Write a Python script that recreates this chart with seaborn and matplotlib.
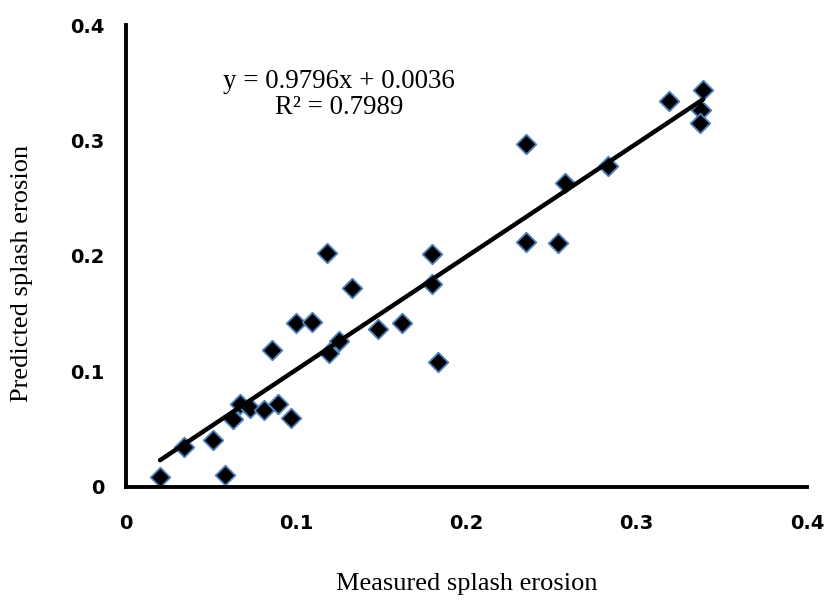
import matplotlib
matplotlib.use("Agg")
import matplotlib.pyplot as plt
import seaborn as sns
import numpy as np
import pandas as pd

# Data
measured = [0.020, 0.034, 0.051, 0.058, 0.063, 0.067, 0.073, 0.081, 0.089, 0.097,
            0.086, 0.100, 0.109, 0.118, 0.119, 0.125, 0.133, 0.148, 0.162, 0.180,
            0.180, 0.183, 0.235, 0.235, 0.254, 0.258, 0.283, 0.319, 0.339, 0.338,
            0.337]
predicted = [0.009, 0.035, 0.041, 0.010, 0.059, 0.072, 0.068, 0.067, 0.072, 0.060,
             0.119, 0.142, 0.143, 0.203, 0.116, 0.126, 0.172, 0.137, 0.142, 0.202,
             0.176, 0.108, 0.297, 0.212, 0.211, 0.263, 0.278, 0.334, 0.344, 0.326,
             0.315]
slope = 0.9796
intercept = 0.0036
r2 = 0.7989
x_ticks = [0, 0.1, 0.2, 0.3, 0.4]
y_ticks = [0, 0.1, 0.2, 0.3, 0.4]
x_label = "Measured splash erosion"
y_label = "Predicted splash erosion"

df = pd.DataFrame({"measured": measured, "predicted": predicted})
xs = np.array([min(measured), max(measured)])
trend = pd.DataFrame({"x": xs, "y": slope * xs + intercept})

sns.set_style("white")
plt.rcParams.update({"text.color": "black", "axes.labelcolor": "black",
                     "xtick.color": "black", "ytick.color": "black"})
fig = plt.figure(figsize=(8.28, 6.01), dpi=100)
ax = fig.add_axes([0.1522, 0.1897, 0.8224, 0.7687])

sns.scatterplot(data=df, x="measured", y="predicted", marker="D", s=100,
                color="black", edgecolor="#4F81BD", linewidth=1.3, ax=ax, zorder=2)
sns.lineplot(data=trend, x="x", y="y", color="black", linewidth=3.2, ax=ax,
             zorder=3, solid_capstyle="round")

ax.set_xlim(0, 0.4)
ax.set_ylim(0, 0.4)
ax.set_xticks(x_ticks)
ax.set_yticks(y_ticks)
ax.set_xticklabels(["0" if v == 0 else f"{v:g}" for v in x_ticks])
ax.set_yticklabels(["0" if v == 0 else f"{v:g}" for v in y_ticks])
for lab in ax.get_xticklabels() + ax.get_yticklabels():
    lab.set_fontweight("bold")
    lab.set_fontfamily("DejaVu Sans")
    lab.set_fontsize(14)
    lab.set_color("black")

for s in ["top", "right"]:
    ax.spines[s].set_visible(False)
for s in ["left", "bottom"]:
    ax.spines[s].set_linewidth(2.8)
    ax.spines[s].set_color("black")
ax.tick_params(axis="both", direction="out", length=4.5, width=2.8, color="black",
               labelcolor="black")
ax.tick_params(axis="y", pad=11)
ax.tick_params(axis="x", pad=15)

ax.set_xlabel(x_label, fontfamily="Liberation Serif", fontsize=19, color="black")
ax.set_ylabel(y_label, fontfamily="Liberation Serif", fontsize=19, color="black")
ax.xaxis.set_label_coords(0.5, -0.186)
ax.yaxis.set_label_coords(-0.137, 0.463)

ax.text(0.125, 0.340, f"y = {slope}x + {intercept}\nR² = {r2}", ha="center", va="center",
        fontfamily="Liberation Serif", fontsize=19.4, linespacing=1.05,
        multialignment="center", color="black")

fig.savefig("out.png", dpi=100)
